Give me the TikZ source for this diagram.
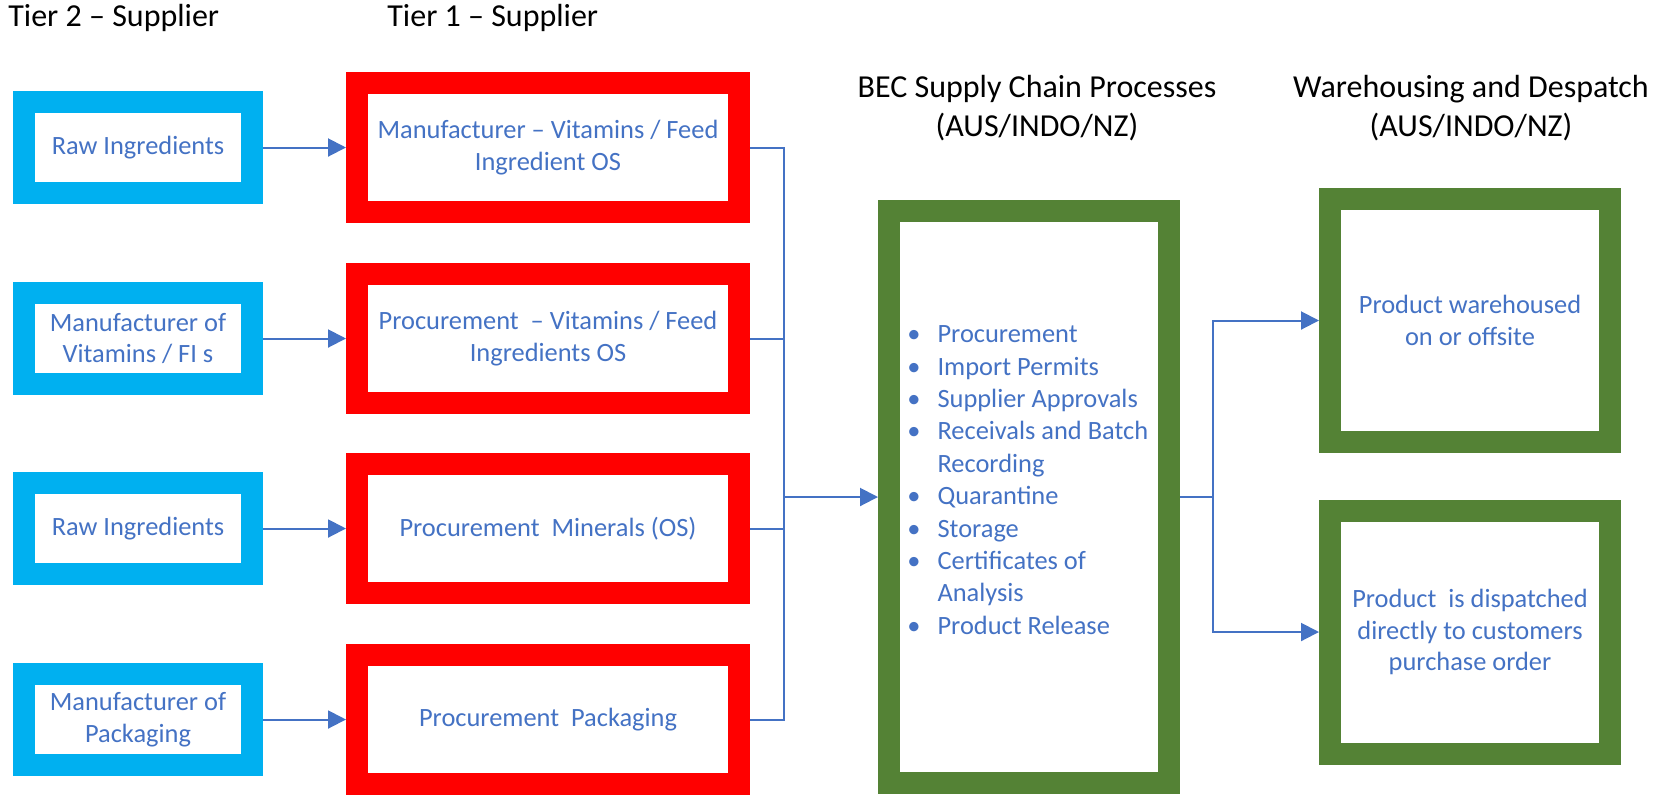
\documentclass[tikz,border=0pt]{standalone}
\usepackage{fontspec}
\setmainfont{Carlito}
\usetikzlibrary{arrows.meta}
\definecolor{skyblue}{HTML}{00B0F0}
\definecolor{boxred}{HTML}{FF0000}
\definecolor{leafgreen}{HTML}{548235}
\definecolor{linkblue}{HTML}{4472C4}
\begin{document}
\begin{tikzpicture}[x=0.5pt,y=-0.5pt,
  tierhead/.style={font=\fontsize{16}{19.5}\selectfont, align=center, inner sep=0pt},
  boxtext/.style={font=\fontsize{13.2}{15.9}\selectfont, text=linkblue, align=center, fill=white, line width=11pt},
  tiertwo/.style={boxtext, draw=skyblue, minimum width=114pt, minimum height=45.5pt},
  tierone/.style={boxtext, draw=boxred, minimum width=191pt, minimum height=64.5pt},
  becbox/.style={boxtext, draw=leafgreen, minimum width=140pt, minimum height=286pt},
  outbox/.style={boxtext, draw=leafgreen, minimum width=140pt, minimum height=121.5pt},
  link/.style={draw=linkblue, line width=1pt},
  flow/.style={link, -{Triangle[length=9pt,width=9pt]}}]
\useasboundingbox (0,0) rectangle (1657,794);
\node[tierhead, anchor=base west] (ttwo) at (8,26) {Tier 2 – Supplier};
\node[tierhead, anchor=base west] (tone) at (387,26) {Tier 1 – Supplier};
\node[tierhead, anchor=base] (hbec) at (1037,136) {BEC Supply Chain Processes\\(AUS/INDO/NZ)};
\node[tierhead, anchor=base] (hout) at (1471,136) {Warehousing and Despatch\\(AUS/INDO/NZ)};
\node[tiertwo] (raw1) at (138,147.5) {Raw Ingredients};
\node[tiertwo] (vit) at (138,338.5) {Manufacturer of\\Vitamins / FI s};
\node[tiertwo] (raw2) at (138,528.5) {Raw Ingredients};
\node[tiertwo] (pack) at (138,719.5) {Manufacturer of\\Packaging};
\node[tierone] (mfr) at (548,147.5) {Manufacturer – Vitamins / Feed\\Ingredient OS};
\node[tierone] (proc) at (548,338.5) {Procurement~ – Vitamins / Feed\\Ingredients OS};
\node[tierone] (mins) at (548,528.5) {Procurement~ Minerals (OS)};
\node[tierone] (ppack) at (548,719.5) {Procurement~ Packaging};
\node[becbox] (bec) at (1029,497) {};
\node[font=\fontsize{13.2}{16.2}\selectfont, text=linkblue, anchor=west, inner sep=0pt] (tasks) at (907,482) {%
\begin{tabular}{@{}l@{\hspace{8.5pt}}l@{}}
\textbullet & Procurement\\
\textbullet & Import Permits\\
\textbullet & Supplier Approvals\\
\textbullet & Receivals and Batch\\
 & Recording\\
\textbullet & Quarantine\\
\textbullet & Storage\\
\textbullet & Certificates of\\
 & Analysis\\
\textbullet & Product Release
\end{tabular}};
\node[outbox] (store) at (1470,320.5) {Product warehoused\\on or offsite};
\node[outbox] (ship) at (1470,632) {Product~ is dispatched\\directly to customers\\purchase order};
\coordinate (join) at (784,497);
\coordinate (split) at (1213,497);
\draw[flow] (raw1) -- (mfr);
\draw[flow] (vit) -- (proc);
\draw[flow] (raw2) -- (mins);
\draw[flow] (pack) -- (ppack);
\draw[link] (mfr.east) -| (join);
\draw[link] (proc.east) -| (join);
\draw[link] (mins.east) -| (join);
\draw[link] (ppack.east) -| (join);
\draw[flow] (join) -- (bec);
\draw[link] (bec.east) -- (split);
\draw[flow] (split) |- (store);
\draw[flow] (split) |- (ship);
\end{tikzpicture}
\end{document}
